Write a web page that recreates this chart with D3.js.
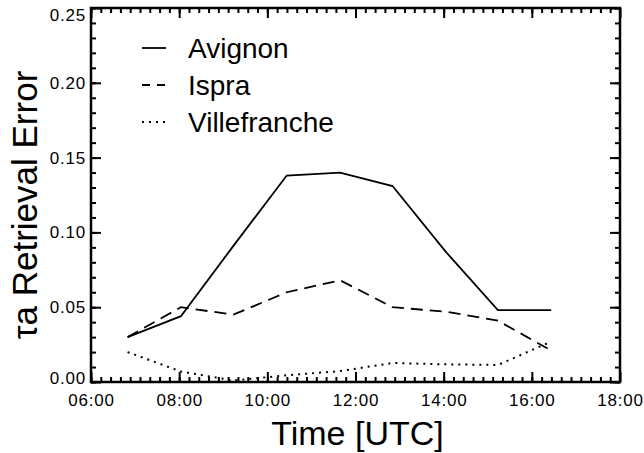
<!DOCTYPE html>
<html>
<head>
<meta charset="utf-8">
<title>Retrieval Error vs Time</title>
<script src="https://cdn.jsdelivr.net/npm/d3@7"></script>
<style>
  body { margin: 0; background: #fff; }
  text { font-family: "Liberation Sans", Arial, sans-serif; fill: #000; }
</style>
</head>
<body>
<svg id="svg"></svg>
<script>
// observation times (decimal hours UTC)
var hours = [6.83, 8.04, 9.23, 10.44, 11.65, 12.84, 14.05, 15.23, 16.44];
var avignon = [0.030, 0.044, 0.091, 0.138, 0.140, 0.131, 0.087, 0.048, 0.048];
var ispra = [0.030, 0.050, 0.045, 0.060, 0.068, 0.050, 0.047, 0.041, 0.021];
var villefranche = [0.020, 0.007, 0.001, 0.0045, 0.0073, 0.0127, 0.0118, 0.0114, 0.027];
var seriesNames = ["Avignon", "Ispra", "Villefranche"];
var xTicks = [6, 8, 10, 12, 14, 16, 18];
var yTicks = [0.00, 0.05, 0.10, 0.15, 0.20, 0.25];

var width = 644, height = 453,
    margins = {top: 8, left: 91, right: 24, bottom: 71};

var svg = d3.select("#svg").attr("width", width).attr("height", height);

var x = d3.scaleLinear().domain([6, 18]).range([margins.left, width - margins.right]);
var y = d3.scaleLinear().domain([0, 0.25]).range([height - margins.bottom, margins.top]);

var fmtHour = function(d) { return d3.format("02")(d) + ":00"; };

// minor tick values
var xMinor = d3.range(0, 54).map(function(i) { return 6 + i * 2 / 9; });
var yMinor = d3.range(0, 26).map(function(i) { return i * 0.01; });

function styleAxis(g) {
    g.selectAll("path").remove();
    g.selectAll("line").attr("stroke", "#000").attr("stroke-width", 2);
    g.selectAll("text")
        .style("font-size", "17px")
        .style("letter-spacing", "0.8px")
        .attr("fill", "#000");
}

// bottom
svg.append("g").attr("transform", "translate(0," + y(0) + ")")
    .call(d3.axisBottom(x).tickValues(xMinor).tickSize(-5).tickFormat(""))
    .call(styleAxis);
svg.append("g").attr("transform", "translate(0," + y(0) + ")")
    .call(d3.axisBottom(x).tickValues(xTicks).tickSize(-10).tickPadding(12).tickFormat(fmtHour))
    .call(styleAxis)
    .selectAll("text").attr("dy", "0.71em");
// top
svg.append("g").attr("transform", "translate(0," + y(0.25) + ")")
    .call(d3.axisTop(x).tickValues(xMinor).tickSize(-5).tickFormat(""))
    .call(styleAxis);
svg.append("g").attr("transform", "translate(0," + y(0.25) + ")")
    .call(d3.axisTop(x).tickValues(xTicks).tickSize(-10).tickFormat(""))
    .call(styleAxis);
// left
svg.append("g").attr("transform", "translate(" + x(6) + ",0)")
    .call(d3.axisLeft(y).tickValues(yMinor).tickSize(-5).tickFormat(""))
    .call(styleAxis);
var leftAxis = svg.append("g").attr("transform", "translate(" + x(6) + ",0)")
    .call(d3.axisLeft(y).tickValues(yTicks).tickSize(-10).tickPadding(5).tickFormat(d3.format(".2f")))
    .call(styleAxis);
// keep the end labels inside the box like the original
leftAxis.selectAll(".tick text").attr("y", function(d) {
    var ty = y(d);
    return Math.max(15, Math.min(height - margins.bottom - 4, ty)) - ty;
});
// right
svg.append("g").attr("transform", "translate(" + x(18) + ",0)")
    .call(d3.axisRight(y).tickValues(yMinor).tickSize(-5).tickFormat(""))
    .call(styleAxis);
svg.append("g").attr("transform", "translate(" + x(18) + ",0)")
    .call(d3.axisRight(y).tickValues(yTicks).tickSize(-10).tickFormat(""))
    .call(styleAxis);

// frame
svg.append("rect")
    .attr("x", x(6)).attr("y", y(0.25))
    .attr("width", x(18) - x(6)).attr("height", y(0) - y(0.25))
    .attr("fill", "none").attr("stroke", "#000").attr("stroke-width", 2.5);

// axis titles
svg.append("text")
    .attr("x", (x(6) + x(18)) / 2 + 2)
    .attr("y", 445)
    .style("text-anchor", "middle")
    .style("font-size", "34px")
    .text("Time [UTC]");

svg.append("text")
    .attr("transform", "translate(37,205)rotate(-90)")
    .style("text-anchor", "middle")
    .style("font-size", "35px")
    .text("\u03C4a Retrieval Error");

// lines
var allSeries = [avignon, ispra, villefranche];
var dashes = [null, "12,7", "2,5"];
var legendDashes = [null, "8,7", "2,5"];

var line = d3.line()
    .x(function(d, i) { return x(hours[i]); })
    .y(function(d) { return y(d); });

allSeries.forEach(function(vals, k) {
    svg.append("path")
        .datum(vals)
        .attr("d", line)
        .attr("fill", "none")
        .attr("stroke", "#000")
        .attr("stroke-width", k == 2 ? 2 : 1.8)
        .attr("stroke-dasharray", dashes[k]);
});

// legend
var legend = svg.append("g");
seriesNames.forEach(function(name, k) {
    var base = 58 + k * 37;
    legend.append("line")
        .attr("x1", 142).attr("x2", 166)
        .attr("y1", base - 10).attr("y2", base - 10)
        .attr("stroke", "#000")
        .attr("stroke-width", k == 2 ? 2 : 1.8)
        .attr("stroke-dasharray", legendDashes[k]);
    legend.append("text")
        .attr("x", 188).attr("y", base)
        .style("font-size", "28px")
        .text(name);
});
</script>
</body>
</html>
